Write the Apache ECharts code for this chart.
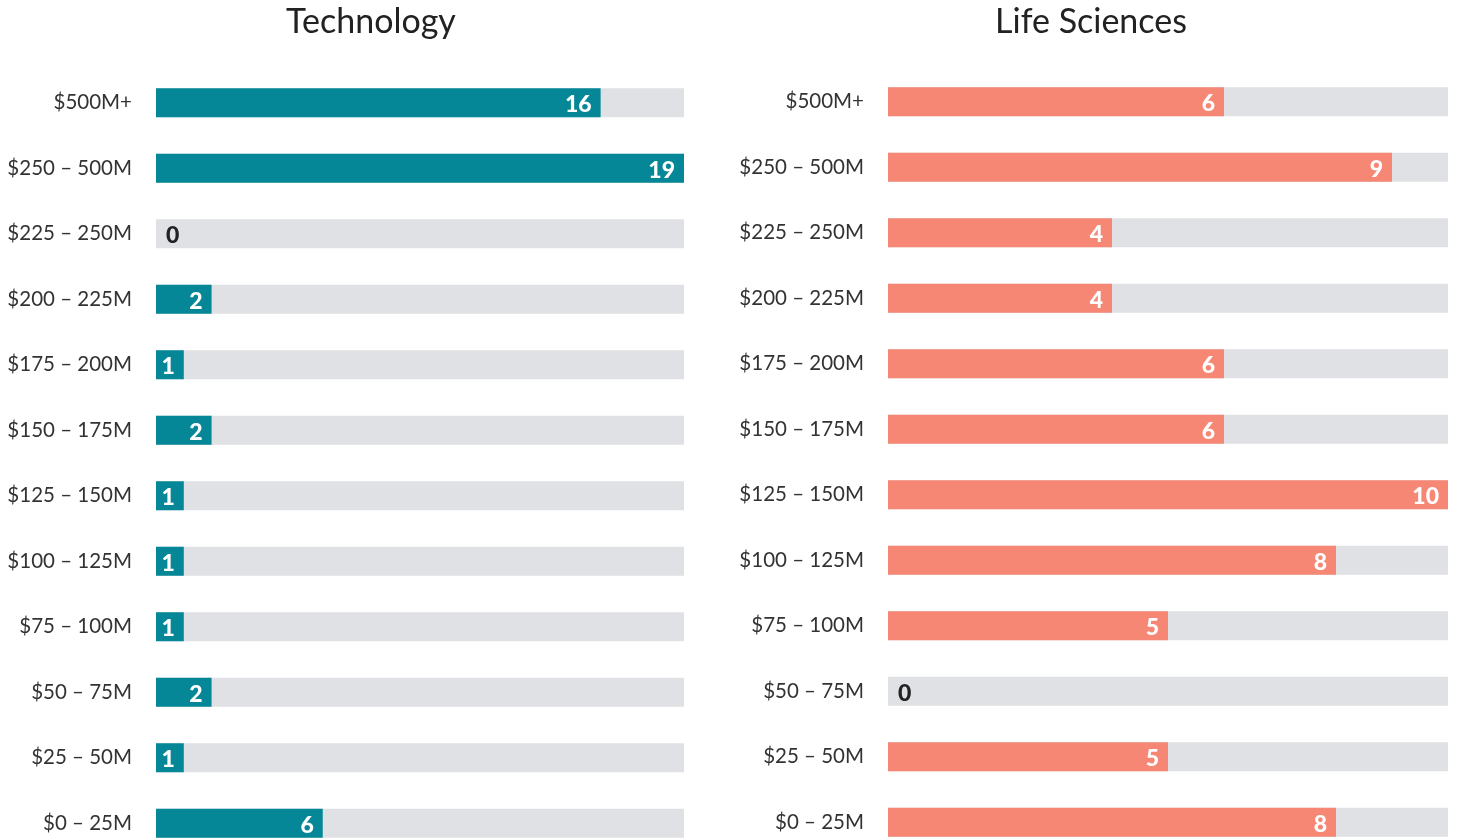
<!DOCTYPE html>
<html>
<head>
<meta charset="utf-8">
<script src="https://cdn.jsdelivr.net/npm/echarts@6/dist/echarts.min.js"></script>
<style>
  html, body { margin: 0; padding: 0; background: #fff; overflow: hidden; }
  #main { width: 1459px; height: 880px; }
</style>
</head>
<body>
<div id="main"></div>
<script>
// categories, top to bottom
var categories = ['$500M+', '$250 – 500M', '$225 – 250M', '$200 – 225M', '$175 – 200M', '$150 – 175M',
  '$125 – 150M', '$100 – 125M', '$75 – 100M', '$50 – 75M', '$25 – 50M', '$0 – 25M'];
var techValues = [16, 19, 0, 2, 1, 2, 1, 1, 1, 2, 1, 6];
var lifeValues = [6, 9, 4, 4, 6, 6, 10, 8, 5, 0, 5, 8];

var myChart = echarts.init(document.getElementById('main'));
var font = 'Lato';

// 0 gets a dark label on the grey track
function toItems(vals) {
  return vals.map(function (v) {
    if (v === 0) {
      return { value: v, label: { position: 'insideLeft', distance: 10, color: '#222' } };
    }
    return v;
  });
}

function barSeries(idx, vals, color) {
  return {
    type: 'bar',
    xAxisIndex: idx,
    yAxisIndex: idx,
    data: toItems(vals),
    barWidth: 29,
    itemStyle: { color: color },
    showBackground: true,
    backgroundStyle: { color: '#e0e1e5' },
    label: {
      show: true,
      position: 'insideRight',
      distance: 9,
      offset: [0, 2],
      color: '#fff',
      fontFamily: font,
      fontWeight: 900,
      fontSize: 23
    },
    silent: true
  };
}

var yBase = {
  type: 'category',
  data: categories,
  inverse: true,
  axisLine: { show: false },
  axisTick: { show: false },
  axisLabel: { color: '#333', fontSize: 20.5, fontFamily: font, margin: 24 }
};
var xBase = {
  type: 'value',
  min: 0,
  show: false,
  splitLine: { show: false }
};

var option = {
  animation: false,
  title: [
    { text: 'Technology', left: 366, top: 0, textAlign: 'center',
      textStyle: { fontSize: 34, fontWeight: 'normal', color: '#222', fontFamily: font } },
    { text: 'Life Sciences', left: 1086, top: 0, textAlign: 'center',
      textStyle: { fontSize: 34, fontWeight: 'normal', color: '#222', fontFamily: font } }
  ],
  grid: [
    { left: 156, width: 528, top: 70, height: 786 },
    { left: 888, width: 560, top: 69, height: 786 }
  ],
  xAxis: [
    Object.assign({ gridIndex: 0, max: 19 }, xBase),
    Object.assign({ gridIndex: 1, max: 10 }, xBase)
  ],
  yAxis: [
    Object.assign({ gridIndex: 0 }, yBase),
    Object.assign({ gridIndex: 1 }, yBase)
  ],
  series: [
    barSeries(0, techValues, '#058797'),
    barSeries(1, lifeValues, '#f58774')
  ]
};

myChart.setOption(option);
</script>
</body>
</html>
